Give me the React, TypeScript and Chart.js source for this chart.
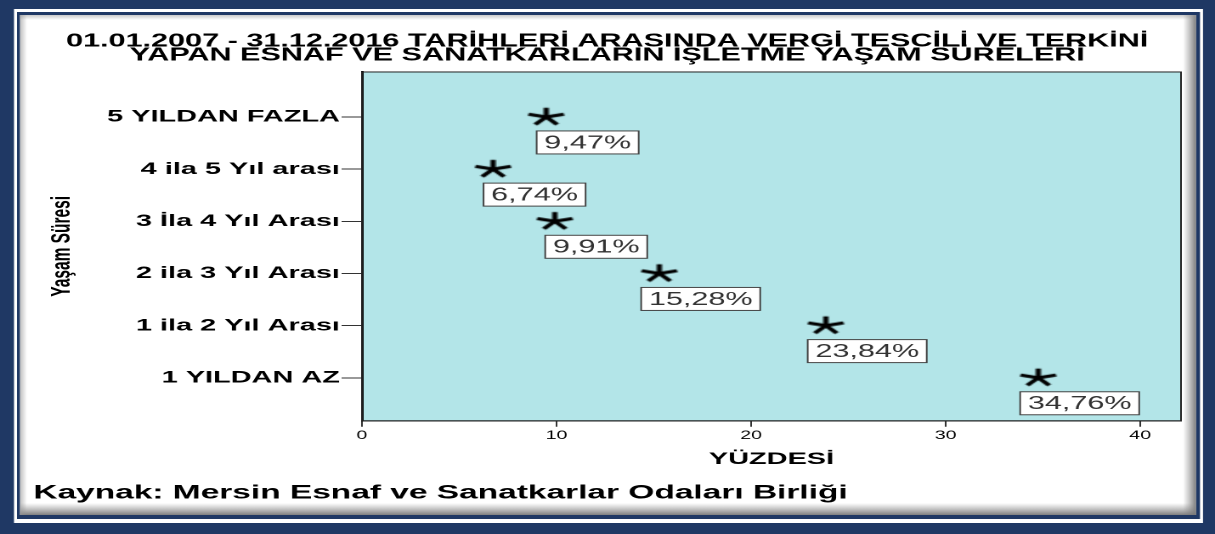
import React, { useEffect, useRef } from "react";
import { Chart, registerables } from "chart.js";

Chart.register(...registerables);

// ---- data ----
const titleLines = [
  "01.01.2007 - 31.12.2016 TARİHLERİ ARASINDA VERGİ TESCİLİ VE TERKİNİ",
  "YAPAN ESNAF VE SANATKARLARIN İŞLETME YAŞAM SÜRELERİ",
];
const sourceText = "Kaynak: Mersin Esnaf ve Sanatkarlar Odaları Birliği";
const yAxisTitle = "Yaşam Süresi";
const xAxisTitle = "YÜZDESİ";
const categories = [
  "1 YILDAN AZ",
  "1 ila 2 Yıl Arası",
  "2 ila 3 Yıl Arası",
  "3 İla 4 Yıl Arası",
  "4 ila 5 Yıl arası",
  "5 YILDAN FAZLA",
];
const percentages = [34.76, 23.84, 15.28, 9.91, 6.74, 9.47];
const xTickValues = [0, 10, 20, 30, 40];

// ---- geometry / style ----
const SCREEN_W = 1215;
const SCREEN_H = 534;
const LOGICAL_W = 715;
const S = SCREEN_W / LOGICAL_W; // horizontal stretch
const NAVY = "#1f3864";
const PLOT_BG = "#b3e5e8";
const FONT = "Arial, 'Liberation Sans', Helvetica, sans-serif";

const fmt = (v: number) => v.toFixed(2).replace(".", ",") + "%";

function makeStar(): HTMLCanvasElement {
  const c = document.createElement("canvas");
  c.width = 26;
  c.height = 22;
  const g = c.getContext("2d")!;
  const cx = 13;
  const cy = 11;
  const rx = 11;
  const ry = 9.2;
  g.strokeStyle = "#000";
  g.lineWidth = 3.1;
  g.lineCap = "butt";
  g.beginPath();
  for (let k = 0; k < 5; k++) {
    const a = ((-90 + 72 * k) * Math.PI) / 180;
    g.moveTo(cx, cy);
    g.lineTo(cx + rx * Math.cos(a), cy + ry * Math.sin(a));
  }
  g.stroke();
  return c;
}

const framePlugin = {
  id: "frame",
  beforeDraw(chart: any) {
    const ctx = chart.ctx;
    const W = chart.width;
    const H = chart.height;
    ctx.save();
    ctx.fillStyle = NAVY;
    ctx.fillRect(0, 0, W, H);
    ctx.fillStyle = "#ffffff";
    ctx.fillRect(14 / S, 9, (1203 - 14) / S, 523 - 9);
    ctx.fillStyle = NAVY;
    ctx.fillRect(17 / S, 12, (1200 - 17) / S, 519 - 12);
    ctx.fillStyle = "#ffffff";
    ctx.fillRect(20 / S, 15, (1196 - 20) / S, 515 - 15);
    // bevel shading
    let g = ctx.createLinearGradient(1183 / S, 0, 1196 / S, 0);
    g.addColorStop(0, "rgba(140,140,140,0)");
    g.addColorStop(1, "rgba(120,120,120,0.95)");
    ctx.fillStyle = g;
    ctx.fillRect(1183 / S, 15, 13 / S, 500);
    g = ctx.createLinearGradient(0, 503, 0, 515);
    g.addColorStop(0, "rgba(140,140,140,0)");
    g.addColorStop(1, "rgba(120,120,120,0.95)");
    ctx.fillStyle = g;
    ctx.fillRect(20 / S, 503, (1196 - 20) / S, 12);
    g = ctx.createLinearGradient(20 / S, 0, 27 / S, 0);
    g.addColorStop(0, "rgba(150,150,150,0.6)");
    g.addColorStop(1, "rgba(150,150,150,0)");
    ctx.fillStyle = g;
    ctx.fillRect(20 / S, 15, 7 / S, 500);
    g = ctx.createLinearGradient(0, 15, 0, 20);
    g.addColorStop(0, "rgba(150,150,150,0.5)");
    g.addColorStop(1, "rgba(150,150,150,0)");
    ctx.fillStyle = g;
    ctx.fillRect(20 / S, 15, (1196 - 20) / S, 5);
    // plot background
    const a = chart.chartArea;
    ctx.fillStyle = PLOT_BG;
    ctx.fillRect(a.left, a.top, a.right - a.left, a.bottom - a.top);
    ctx.restore();
  },
  beforeDatasetsDraw(chart: any) {
    const ctx = chart.ctx;
    const a = chart.chartArea;
    ctx.save();
    ctx.strokeStyle = "#222";
    ctx.lineWidth = 1;
    ctx.strokeRect(a.left, a.top, a.right - a.left, a.bottom - a.top);
    ctx.restore();
  },
};

const labelPlugin = {
  id: "valueLabels",
  afterDatasetsDraw(chart: any) {
    const ctx = chart.ctx;
    const meta = chart.getDatasetMeta(0);
    ctx.save();
    ctx.font = `18px ${FONT}`;
    meta.data.forEach((pt: any, i: number) => {
      const text = fmt(percentages[i]);
      const tw = ctx.measureText(text).width;
      const bw = tw + 9;
      const bh = 23;
      const cx = pt.x + 24.4;
      const top = pt.y + 14;
      ctx.fillStyle = "#ffffff";
      ctx.fillRect(cx - bw / 2, top, bw, bh);
      ctx.strokeStyle = "#444";
      ctx.lineWidth = 1;
      ctx.strokeRect(cx - bw / 2, top, bw, bh);
      ctx.fillStyle = "#333";
      ctx.textAlign = "center";
      ctx.textBaseline = "middle";
      ctx.fillText(text, cx, top + bh / 2 + 1);
    });
    ctx.restore();
  },
};

export default function App() {
  const ref = useRef<HTMLCanvasElement | null>(null);
  useEffect(() => {
    if (!ref.current) return;
    const star = makeStar();
    const chart = new Chart(ref.current, {
      type: "scatter",
      data: {
        datasets: [
          {
            data: percentages.map((v, i) => ({ x: v, y: i })),
            pointStyle: star as any,
            pointRadius: 10,
            showLine: false,
          },
        ],
      },
      options: {
        responsive: false,
        animation: false,
        devicePixelRatio: 2,
        layout: { padding: { left: 19.6, right: 20, top: 0, bottom: 0 } },
        plugins: {
          legend: { display: false },
          tooltip: { enabled: false },
          title: {
            display: true,
            text: titleLines,
            color: "#000",
            font: { family: FONT, size: 18, weight: "bold", lineHeight: 0.78 },
            padding: { top: 34.5, bottom: 9.4 },
          },
          subtitle: {
            display: true,
            position: "bottom",
            align: "start",
            text: sourceText,
            color: "#000",
            font: { family: FONT, size: 19.7, weight: "bold", lineHeight: 1.2 },
            padding: { top: 11.3, bottom: 29.3 },
          },
        },
        scales: {
          x: {
            type: "linear",
            position: "bottom",
            min: 0,
            max: 42.1,
            afterBuildTicks: (s: any) => {
              s.ticks = xTickValues.map((v) => ({ value: v }));
            },
            ticks: {
              font: { family: FONT, size: 11.5 },
              color: "#000",
              padding: 2,
              callback: (v: any) => String(v),
            },
            grid: { drawOnChartArea: false, tickLength: 6, color: "#333" },
            border: { color: "#222", width: 1 },
            title: {
              display: true,
              text: xAxisTitle,
              color: "#000",
              font: { family: FONT, size: 17, weight: "bold", lineHeight: 1.2 },
              padding: { top: 0, bottom: 0 },
            },
            afterFit: (s: any) => {
              s.height = 49;
            },
          },
          y: {
            type: "linear",
            min: -0.824,
            max: 5.862,
            afterBuildTicks: (s: any) => {
              s.ticks = categories.map((_, i) => ({ value: i }));
            },
            ticks: {
              autoSkip: false,
              font: { family: FONT, size: 17, weight: "bold" },
              color: "#000",
              padding: 1,
              callback: (v: any) => categories[Math.round(v)],
            },
            grid: { drawOnChartArea: false, tickLength: 12, color: "#333" },
            border: { color: "#000", width: 1.5 },
            title: {
              display: true,
              text: yAxisTitle,
              color: "#000",
              font: { family: FONT, size: 15.5, weight: "bold", lineHeight: 1 },
              padding: { top: 9.2, bottom: 0 },
            },
            afterFit: (s: any) => {
              s.width = 193.4;
            },
          },
        },
      } as any,
      plugins: [framePlugin, labelPlugin],
    });
    return () => chart.destroy();
  }, []);
  return (
    <div style={{ position: "fixed", left: 0, top: 0, width: SCREEN_W, height: SCREEN_H, overflow: "hidden" }}>
      <canvas
        ref={ref}
        width={LOGICAL_W}
        height={SCREEN_H}
        style={{ width: SCREEN_W + "px", height: SCREEN_H + "px", display: "block" }}
      />
    </div>
  );
}
